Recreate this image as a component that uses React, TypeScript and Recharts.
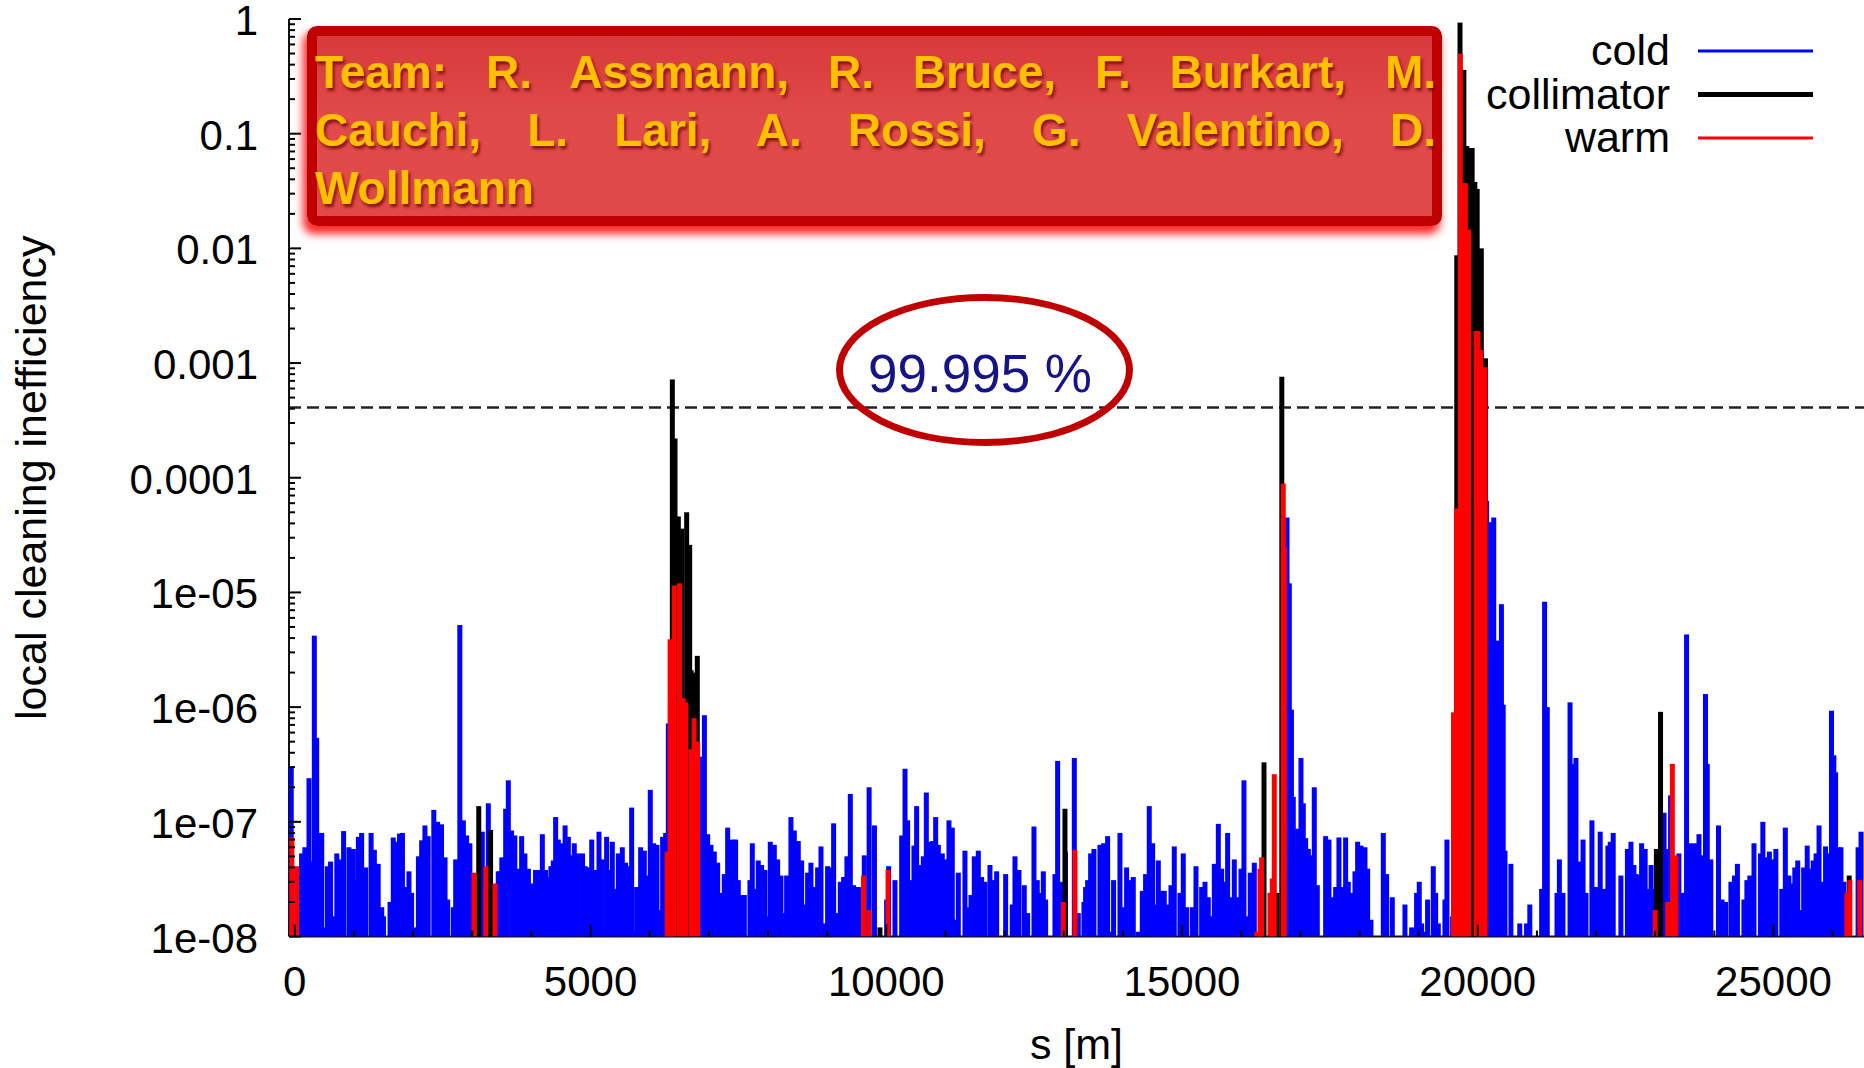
import React from "react";
import { ScatterChart, Scatter, XAxis, YAxis, ReferenceLine, Legend } from "recharts";

// loss map: [s in m, local cleaning inefficiency]
const coldLosses: [number, number][] = [
  [-60, 3e-7], [90, 3.4e-8], [115, 5.3e-8], [170, 6e-8], [240, 2.4e-7], [285, 4.5e-8], [330, 4.2e-6], [370, 5.4e-7],
  [400, 8e-8], [455, 8e-8], [500, 1.2e-8], [550, 4.1e-8], [605, 4.5e-8], [655, 1.5e-8], [710, 5.3e-8], [770, 4.7e-8],
  [825, 8.3e-8], [915, 6e-8], [990, 5.8e-8], [1030, 3.1e-8], [1075, 7.4e-8], [1130, 8e-8], [1200, 4e-8], [1290, 8e-8],
  [1345, 5.7e-8], [1410, 4.3e-8], [1470, 1.8e-8], [1500, 1.5e-8], [1610, 2e-8], [1665, 7.3e-8], [1720, 6.7e-8],
  [1770, 7.9e-8], [1820, 8e-8], [1875, 2.7e-8], [1930, 3.7e-8], [1975, 2.4e-8], [2045, 1.2e-8], [2090, 5e-8],
  [2145, 6.9e-8], [2200, 9.3e-8], [2255, 7.5e-8], [2350, 1.27e-7], [2415, 1e-7], [2480, 9.5e-8], [2540, 4.9e-8],
  [2585, 2.1e-8], [2680, 1.8e-8], [2720, 4.7e-8], [2790, 5.2e-6], [2850, 1.03e-7], [2905, 7.6e-8], [2960, 6.5e-8],
  [3170, 8.2e-8], [3272, 1.45e-7], [3440, 3.7e-8], [3470, 3.7e-8], [3500, 4.9e-8], [3565, 1.3e-7], [3610, 2.3e-7],
  [3665, 8.4e-8], [3720, 7.6e-8], [3780, 3.9e-8], [3835, 7.5e-8], [3890, 5.3e-8], [3950, 3.9e-8], [3995, 2.9e-8],
  [4030, 2.1e-8], [4070, 3.8e-8], [4115, 3.8e-8], [4185, 7.8e-8], [4240, 3.8e-8], [4285, 3.3e-8], [4330, 4.1e-8],
  [4370, 4.6e-8], [4410, 1.1e-7], [4455, 7e-8], [4510, 6.5e-8], [4570, 9.3e-8], [4625, 7.4e-8], [4670, 5.1e-8],
  [4725, 6.5e-8], [4790, 5.3e-8], [4865, 5.3e-8], [4910, 4.1e-8], [4960, 4e-8],
  [5020, 7e-8], [5075, 3.8e-8], [5143, 8.2e-8], [5199, 4.7e-8], [5272, 7.4e-8], [5312, 3.8e-8], [5368, 6.7e-8],
  [5424, 2.6e-8], [5470, 5.3e-8], [5537, 6e-8], [5593, 4.4e-8], [5639, 4.1e-8], [5695, 1.33e-7], [5751, 1.1e-8],
  [5779, 2.7e-8], [5847, 6e-8], [5909, 5.6e-8], [5960, 3.4e-8], [6010, 1.9e-7], [6067, 6.5e-8], [6123, 6.3e-8],
  [6180, 1.7e-8], [6219, 7.4e-8], [6270, 8e-8], [6315, 7.2e-7], [6880, 3.7e-7], [6925, 8.5e-7], [6980, 7.8e-8],
  [7036, 6.3e-8], [7092, 5.5e-8], [7149, 4.4e-8], [7205, 2.4e-8], [7261, 3.5e-8], [7318, 8.9e-8], [7397, 7e-8],
  [7453, 7e-8], [7498, 3.1e-8], [7543, 2.3e-8], [7600, 2.3e-8], [7695, 3.1e-8], [7735, 6.5e-8], [7791, 2.6e-8],
  [7836, 4.6e-8], [7893, 4.2e-8], [7949, 3.8e-8], [8005, 1.5e-8], [8039, 6.7e-8], [8107, 6.3e-8], [8163, 4.7e-8],
  [8219, 3.4e-8], [8276, 1.6e-8], [8315, 3.4e-8], [8388, 1.1e-7], [8445, 8.4e-8], [8484, 2.3e-8], [8512, 6.8e-8],
  [8569, 4.6e-8], [8625, 1.9e-8], [8670, 3.6e-8], [8726, 4.4e-8], [8783, 2.7e-8], [8839, 4e-8], [8896, 6.1e-8],
  [8952, 1.3e-8], [9008, 4.1e-8], [9065, 4e-8], [9110, 9.7e-8], [9166, 1.6e-8], [9223, 3e-8], [9279, 3.3e-8],
  [9335, 5e-8], [9392, 1.75e-7], [9448, 2.8e-8], [9499, 2.7e-8], [9561, 2.7e-8], [9628, 5.1e-8], [9710, 2e-7],
  [9800, 9.3e-8], [10006, 2.1e-8], [10040, 4.1e-8],
  [10147, 3.1e-8], [10260, 7.6e-8], [10317, 2.9e-7], [10361, 1.03e-7], [10418, 3.1e-8], [10468, 6.2e-8],
  [10513, 1.37e-7], [10570, 4.2e-8], [10626, 5e-8], [10677, 1.8e-7], [10727, 6.7e-8], [10756, 1.9e-8],
  [10784, 6.8e-8], [10835, 1.1e-7], [10880, 6.3e-8], [10913, 4.3e-8], [10947, 5.3e-8], [10992, 4.7e-8],
  [11060, 1.03e-7], [11116, 8.9e-8], [11161, 1.4e-8], [11218, 3.6e-8], [11330, 5.6e-8], [11387, 1.8e-8],
  [11432, 2.3e-8], [11488, 5e-8], [11556, 5.6e-8], [11612, 3.3e-8], [11668, 3e-8], [11753, 4.2e-8], [11809, 3.1e-8],
  [11866, 3.7e-8], [12018, 3.5e-8], [12130, 1.9e-8], [12176, 5e-8], [12243, 3.8e-8], [12333, 2.8e-8],
  [12390, 1.6e-8], [12497, 9.1e-8], [12553, 3.1e-8], [12604, 2.4e-8], [12655, 3.7e-8], [12694, 2.1e-8],
  [12852, 3.5e-8], [12897, 3.4e-7], [12953, 3e-8], [13030, 5.5e-8], [13179, 3.6e-7], [13246, 1.6e-8],
  [13342, 2e-8], [13370, 2.7e-8], [13404, 3.1e-8], [13455, 5.3e-8], [13511, 5.8e-8], [13612, 6.3e-8],
  [13674, 6.5e-8], [13742, 7.5e-8], [13793, 1.1e-8], [13843, 3.1e-8], [13951, 8e-8], [14007, 1.8e-8],
  [14063, 4e-8], [14120, 3.1e-8], [14176, 3.3e-8], [14260, 1.1e-8], [14328, 2.5e-8], [14384, 3.5e-8],
  [14446, 1.37e-7], [14503, 6.5e-8], [14554, 1.9e-8], [14599, 4.6e-8], [14644, 2.5e-8], [14700, 2.5e-8],
  [14756, 1.9e-8], [14813, 2.8e-8], [14869, 6.1e-8], [14965, 2.4e-8], [15021, 5.3e-8], [15078, 1.8e-8],
  [15174, 1.8e-8], [15236, 4.1e-8],
  [15332, 2.7e-8], [15388, 3e-8], [15444, 2.2e-8], [15500, 1.5e-8], [15546, 4.3e-8], [15614, 9.6e-8],
  [15670, 3.9e-8], [15726, 3e-8], [15771, 8e-8], [15828, 2.2e-8], [15884, 4.7e-8], [15923, 2.2e-8],
  [15963, 1.8e-8], [15997, 3.9e-8], [16047, 2.3e-7], [16098, 1.5e-8], [16154, 3.6e-8], [16222, 4.4e-8],
  [16775, 4.5e-5], [16814, 1.2e-5], [16850, 9.5e-7], [16881, 1.65e-7], [16921, 6e-8], [16955, 8.7e-8],
  [17011, 3.6e-7], [17050, 1.45e-7], [17090, 7.2e-8], [17135, 5.8e-8], [17180, 5.1e-8], [17236, 2e-7],
  [17287, 2.8e-8], [17428, 7.5e-8], [17484, 7e-8], [17541, 2.2e-8], [17597, 2.7e-8], [17653, 7.3e-8],
  [17710, 2.7e-8], [17766, 7.3e-8], [17811, 3e-8], [17868, 2.4e-8], [17924, 3.7e-8], [17969, 6.7e-8],
  [18025, 6.2e-8], [18093, 6e-8], [18138, 3.9e-8], [18194, 1.4e-8], [18403, 8e-8], [18459, 3.5e-8],
  [18555, 2.2e-8], [18769, 1.9e-8], [18882, 1.2e-8], [18966, 2.4e-8], [19011, 3e-8], [19051, 1.3e-8],
  [19107, 1.1e-8], [19152, 2.1e-8], [19248, 4.1e-8], [19288, 2.4e-8], [19333, 1.3e-8], [19445, 2.1e-8],
  [19479, 7e-8], [19575, 1.5e-8],
  [20150, 6.3e-5], [20210, 4.1e-5], [20270, 4.5e-5], [20330, 3.8e-6], [20360, 6.3e-8], [20400, 7.9e-6],
  [20430, 1.05e-6], [20460, 5.6e-8], [20560, 4.3e-8], [20710, 1.3e-8], [20825, 1.3e-8], [20880, 1.9e-8],
  [21080, 2.6e-8], [21130, 8.3e-6], [21175, 1e-6], [21340, 2.4e-8], [21380, 4.7e-8], [21440, 2.4e-8],
  [21560, 1.1e-6], [21600, 3.2e-7], [21630, 4.2e-8], [21660, 3.6e-7], [21730, 4.5e-8], [21780, 7e-8],
  [21830, 2.4e-8], [21930, 1.03e-7], [21990, 2.7e-8], [22015, 2.1e-8], [22070, 8.2e-8], [22130, 2.6e-8],
  [22200, 6.2e-8], [22240, 6.7e-8], [22290, 8e-8], [22420, 3.4e-8], [22530, 5.8e-8], [22590, 6.7e-8],
  [22640, 4.2e-8], [22680, 3.5e-8], [22730, 3.4e-8], [22770, 6.5e-8], [22830, 5.8e-8], [22880, 2.6e-8],
  [22930, 4.2e-8], [22990, 2.6e-8], [23150, 1.2e-7], [23180, 5.8e-8], [23260, 1.7e-7], [23400, 5.3e-8],
  [23450, 2.4e-8], [23530, 4.3e-6], [23600, 6.5e-8], [23680, 6.5e-8], [23740, 7.8e-8], [23790, 5.1e-8],
  [23850, 1.3e-6], [23880, 3.2e-7], [23940, 4.7e-8], [24070, 9.3e-8], [24130, 2.1e-8], [24190, 2e-8],
  [24280, 3e-8], [24340, 3.4e-8], [24390, 4.3e-8], [24500, 2.1e-8], [24550, 3.1e-8], [24600, 3.4e-8],
  [24670, 6.5e-8], [24780, 5.3e-8], [24820, 1e-7], [24880, 4.9e-8], [24930, 5.5e-8], [24980, 4.7e-8],
  [25040, 5.8e-8], [25140, 2.6e-8], [25200, 8.9e-8], [25260, 3.4e-8], [25300, 2.9e-8], [25360, 4e-8],
  [25410, 4.6e-8], [25460, 1.7e-8], [25510, 4e-8], [25570, 6.2e-8], [25620, 3.9e-8], [25670, 4.6e-8],
  [25720, 5.3e-8], [25770, 9.3e-8], [25830, 3e-8], [25880, 6.1e-8], [25930, 5.3e-8], [25980, 9.3e-7],
  [26020, 3.8e-7], [26050, 2.7e-7], [26090, 6e-8], [26140, 6e-8], [26190, 3e-8], [26430, 6e-8], [26480, 8.2e-8],
];

const collimatorLosses: [number, number][] = [
  [3110, 1.37e-7], [3310, 8.5e-8],
  [6383, 7.2e-4], [6428, 2.2e-4], [6484, 4.6e-5], [6540, 3.6e-5], [6625, 5e-5], [6676, 2.6e-5], [6700, 2.1e-6],
  [6732, 2e-6], [6805, 2.8e-6],
  [9893, 1.2e-8], [13021, 1.3e-7], [16386, 3.3e-7], [16605, 2.4e-8], [16687, 7.6e-4],
  [19645, 8.7e-3], [19700, 0.93], [19765, 0.36], [19815, 0.078], [19860, 0.075], [19905, 0.075], [19950, 0.038],
  [19990, 0.033], [20060, 0.01], [20130, 1.1e-3],
  [23020, 5.8e-8], [23090, 9.1e-7], [26280, 3.4e-8],
];

const warmLosses: [number, number][] = [
  [-50, 7.3e-8], [30, 4.1e-8], [3030, 3.6e-8], [3230, 4.1e-8], [3385, 2.9e-8],
  [6295, 5.5e-8], [6345, 3.9e-6], [6365, 3.8e-6], [6415, 1.15e-5], [6505, 1.2e-5], [6565, 1.2e-6], [6610, 1.1e-6],
  [6700, 4.3e-7], [6750, 8e-7], [6810, 5e-7],
  [9615, 3.4e-8], [9706, 1.7e-8], [10030, 3.8e-8], [12993, 2e-8], [13190, 5.7e-8],
  [16262, 1.1e-8], [16318, 3.9e-8], [16346, 4.9e-8], [16487, 2.4e-8], [16526, 3.2e-8], [16560, 2.6e-7],
  [16712, 8.9e-5], [16730, 2.5e-5],
  [19590, 9e-7], [19640, 5.4e-5], [19705, 0.5], [19760, 0.037], [19790, 0.037], [19845, 0.0146], [19970, 1.9e-3],
  [20005, 1.9e-3], [20050, 1.3e-3], [20125, 9.2e-4],
  [23000, 1.7e-8], [23210, 2e-8], [23290, 3.2e-7], [23350, 5.1e-8], [26240, 2.4e-8], [26290, 3.1e-8], [26460, 3.1e-8],
];

const seriesNames = ["cold", "collimator", "warm"];
const seriesColors = ["#0000ff", "#000000", "#ff0000"];
const legendLineWidths = [3, 5, 3];

const xMajorTicks = [0, 5000, 10000, 15000, 20000, 25000];
const xMinorTicks = [1000, 2000, 3000, 4000, 6000, 7000, 8000, 9000, 11000, 12000, 13000, 14000,
  16000, 17000, 18000, 19000, 21000, 22000, 23000, 24000, 26000];
const yMajorTicks = [1e-8, 1e-7, 1e-6, 1e-5, 1e-4, 1e-3, 1e-2, 1e-1, 1];
const yTickLabels = ["1e-08", "1e-07", "1e-06", "1e-05", "0.0001", "0.001", "0.01", "0.1", "1"];
const yMinorSteps = [2, 3, 4, 5, 6, 7, 8, 9];

const threshold = 4.1e-4;
const thresholdLabel = "99.995 %";
const teamLines = [
  "Team: R. Assmann, R. Bruce, F. Burkart, M.",
  "Cauchi, L. Lari, A. Rossi, G. Valentino, D.",
  "Wollmann",
];

const W = 1864;
const H = 1068;
const TOP = 19;
const X_AXIS_H = 131.5;
const Y_AXIS_W = 289;
const PLOT_BOTTOM = H - X_AXIS_H;
const BAR_W = 5;
const FONT = '"Liberation Sans", Arial, Helvetica, sans-serif';

const xTicks = [...xMajorTicks, ...xMinorTicks].sort((a, b) => a - b);
const yTicks = [
  ...yMajorTicks,
  ...yMajorTicks.slice(0, -1).flatMap((d) => yMinorSteps.map((m) => m * d)),
].sort((a, b) => a - b);

const toPoints = (rows: [number, number][]) => rows.map(([s, v]) => ({ s, v }));

// gnuplot-style impulse: a bar from the point down to the bottom of the plot
const impulse = (color: string) => (p: any) => {
  if (p.cx == null || p.cy == null) return <g />;
  return (
    <rect
      x={p.cx - BAR_W / 2}
      y={p.cy}
      width={BAR_W}
      height={Math.max(0, PLOT_BOTTOM - p.cy)}
      fill={color}
    />
  );
};

function LeftTick(props: any) {
  const { x, y, payload } = props;
  const i = yMajorTicks.indexOf(payload.value);
  return (
    <g>
      <line x1={x} x2={x + (i >= 0 ? 12 : 6)} y1={y} y2={y} stroke="#000" strokeWidth={2} />
      {i >= 0 && (
        <text x={x - 31} y={y + 16} textAnchor="end" fontSize={42} fontFamily={FONT} fill="#000">
          {yTickLabels[i]}
        </text>
      )}
    </g>
  );
}

function RightTick(props: any) {
  const { x, y, payload } = props;
  const major = yMajorTicks.includes(payload.value);
  return <line x1={x} x2={x - (major ? 12 : 6)} y1={y} y2={y} stroke="#000" strokeWidth={2} />;
}

function BottomTick(props: any) {
  const { x, y, payload } = props;
  const major = xMajorTicks.includes(payload.value);
  return (
    <g>
      <line x1={x} x2={x} y1={y} y2={y - (major ? 12 : 6)} stroke="#000" strokeWidth={2} />
      {major && (
        <text x={x} y={y + 59.5} textAnchor="middle" fontSize={42} fontFamily={FONT} fill="#000">
          {payload.value}
        </text>
      )}
    </g>
  );
}

function TopTick(props: any) {
  const { x, y, payload } = props;
  const major = xMajorTicks.includes(payload.value);
  return <line x1={x} x2={x} y1={y} y2={y + (major ? 12 : 6)} stroke="#000" strokeWidth={2} />;
}

function LossLegend(props: any) {
  const payload = props.payload && props.payload.length
    ? props.payload
    : seriesNames.map((n, i) => ({ value: n, color: seriesColors[i] }));
  return (
    <svg width={464} height={150}>
      {payload.map((p: any, i: number) => (
        <g key={i}>
          <text x={270} y={45 + i * 43.5} textAnchor="end" fontSize={43} fontFamily={FONT} fill="#000">
            {p.value}
          </text>
          <line x1={298} x2={413} y1={31 + i * 43.5} y2={31 + i * 43.5}
            stroke={p.color || seriesColors[i]} strokeWidth={legendLineWidths[i]} />
        </g>
      ))}
    </svg>
  );
}

export default function App() {
  return (
    <div style={{ position: "absolute", left: 0, top: 0, width: W, height: H, overflow: "hidden", background: "#fff", fontFamily: FONT }}>
      <ScatterChart width={W} height={H} margin={{ top: TOP, right: 0, bottom: 0, left: 0 }}>
        <XAxis
          xAxisId="bottom"
          type="number"
          dataKey="s"
          domain={[-98, 26530]}
          allowDataOverflow
          ticks={xTicks}
          interval={0}
          tickSize={0}
          tickMargin={0}
          tick={BottomTick}
          height={X_AXIS_H}
          axisLine={{ stroke: "#111", strokeWidth: 2 }}
          label={(p: any) => (
            <text x={p.viewBox.x + p.viewBox.width / 2} y={H - 9} textAnchor="middle" fontSize={43} fontFamily={FONT} fill="#000">
              s [m]
            </text>
          )}
        />
        <XAxis
          xAxisId="top"
          orientation="top"
          type="number"
          dataKey="s"
          domain={[-98, 26530]}
          allowDataOverflow
          ticks={xTicks}
          interval={0}
          tickSize={0}
          tickMargin={0}
          tick={TopTick}
          height={0}
          axisLine={{ stroke: "#111", strokeWidth: 2 }}
        />
        <YAxis
          yAxisId="left"
          type="number"
          scale="log"
          dataKey="v"
          domain={[1e-8, 1]}
          allowDataOverflow
          ticks={yTicks}
          interval={0}
          tickSize={0}
          tickMargin={0}
          tick={LeftTick}
          width={Y_AXIS_W}
          axisLine={{ stroke: "#111", strokeWidth: 2 }}
          label={(p: any) => {
            const cy = p.viewBox.y + p.viewBox.height / 2;
            return (
              <text x={46} y={cy} transform={`rotate(-90, 46, ${cy})`} textAnchor="middle" fontSize={43} fontFamily={FONT} fill="#000">
                local cleaning inefficiency
              </text>
            );
          }}
        />
        <YAxis
          yAxisId="right"
          orientation="right"
          type="number"
          scale="log"
          dataKey="v"
          domain={[1e-8, 1]}
          allowDataOverflow
          ticks={yTicks}
          interval={0}
          tickSize={0}
          tickMargin={0}
          tick={RightTick}
          width={0}
          axisLine={{ stroke: "#111", strokeWidth: 2 }}
        />
        <Scatter name={seriesNames[0]} xAxisId="bottom" yAxisId="left" data={toPoints(coldLosses)}
          fill={seriesColors[0]} shape={impulse(seriesColors[0])} isAnimationActive={false} />
        <Scatter name={seriesNames[1]} xAxisId="bottom" yAxisId="left" data={toPoints(collimatorLosses)}
          fill={seriesColors[1]} shape={impulse(seriesColors[1])} isAnimationActive={false} />
        <Scatter name={seriesNames[2]} xAxisId="bottom" yAxisId="left" data={toPoints(warmLosses)}
          fill={seriesColors[2]} shape={impulse(seriesColors[2])} isAnimationActive={false} />
        <ReferenceLine xAxisId="bottom" yAxisId="left" y={threshold} stroke="#222" strokeWidth={2.5} strokeDasharray="12 6" />
        <Legend
          layout="horizontal"
          verticalAlign="middle"
          content={LossLegend}
          wrapperStyle={{ position: "absolute", left: 1400, top: 20, width: 464, height: 150, margin: 0 }}
        />
      </ScatterChart>

      <div
        style={{
          position: "absolute", left: 307, top: 26, width: 1135, height: 200, boxSizing: "border-box",
          border: "10px solid #c00000", borderRadius: 10,
          background: "linear-gradient(#d83a3a, #e04a4a 45%, #e04a4a)",
          boxShadow: "-3px 7px 9px 1px rgba(255,0,0,0.85)",
        }}
      />
      <div
        style={{
          position: "absolute", left: 315, top: 43, width: 1121, fontFamily: FONT, fontWeight: "bold",
          fontSize: 46, lineHeight: "58px", color: "#ffc000", textShadow: "2px 3px 3px rgba(110,0,0,0.75)",
        }}
      >
        {teamLines.map((t, i) => {
          const last = i === teamLines.length - 1;
          return (
            <div key={i} style={{ textAlign: last ? "left" : "justify", textAlignLast: last ? "left" : "justify" } as React.CSSProperties}>
              {t}
            </div>
          );
        })}
      </div>

      <svg width={W} height={H} style={{ position: "absolute", left: 0, top: 0, pointerEvents: "none" }}>
        <ellipse cx={984.5} cy={370} rx={145} ry={72.5} fill="none" stroke="#c00000" strokeWidth={7} />
        <text x={980} y={392} textAnchor="middle" fontSize={53} fontFamily={FONT} fill="#141488">
          {thresholdLabel}
        </text>
      </svg>
    </div>
  );
}
